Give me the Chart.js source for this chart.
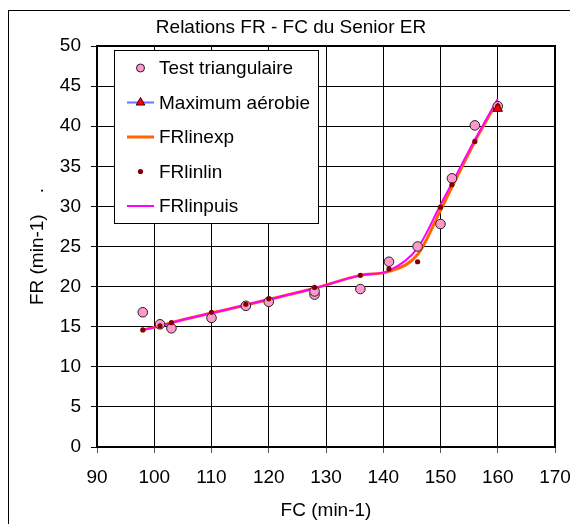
<!DOCTYPE html>
<html>
<head>
<meta charset="utf-8">
<script src="https://cdn.jsdelivr.net/npm/chart.js@4.4.1/dist/chart.umd.min.js"></script>
<style>
    html, body { margin: 0; padding: 0; background: #fff; }
</style>
</head>
<body>
<canvas id="chart" width="570" height="524"></canvas>
<script>
// Test triangulaire
const fcTest = [98, 101, 103, 110, 116, 120, 128, 128, 136, 141, 146, 150, 152, 156, 160];
const frTest = [16.8, 15.3, 14.8, 16.1, 17.6, 18.1, 19.0, 19.4, 19.7, 23.1, 25.0, 27.8, 33.5, 40.1, 42.5];

// Maximum aérobie
const fcMax = [160];
const frMax = [42.2];

// modèles
const fcModel = [98, 101, 103, 110, 116, 120, 128, 136, 141, 146, 150, 152, 156, 160];
const frLinexp = [14.6, 15.1, 15.5, 16.7, 17.7, 18.4, 19.8, 21.4, 21.9, 24.0, 29.5, 32.4, 38.1, 43.2];
const frLinlin = [14.6, 15.1, 15.5, 16.8, 17.8, 18.5, 19.9, 21.4, 22.2, 23.1, 29.9, 32.7, 38.1, 42.5];
const frLinpuis = [14.6, 15.1, 15.5, 16.7, 17.7, 18.4, 19.8, 21.4, 22.0, 24.8, 30.2, 32.9, 38.3, 43.4];

const xTicks = [90, 100, 110, 120, 130, 140, 150, 160, 170];
const yTicks = [0, 5, 10, 15, 20, 25, 30, 35, 40, 45, 50];

const FONT = '"Liberation Sans", Arial, sans-serif';
const FSIZE = 19;

const pts = (xs, ys) => xs.map((x, i) => ({ x: x, y: ys[i] }));

// cadre, titres et légende façon Excel
const excelFrame = {
    id: 'excelFrame',
    beforeDatasetsDraw(chart) {
        const { ctx, chartArea: a } = chart;
        ctx.save();
        ctx.strokeStyle = '#000';
        ctx.lineWidth = 2;
        ctx.strokeRect(a.left, a.top, a.right - a.left, a.bottom - a.top);
        ctx.restore();
    },
    afterDraw(chart) {
        const { ctx, chartArea: a } = chart;
        ctx.save();
        ctx.strokeStyle = '#000';
        ctx.lineWidth = 1;
        ctx.strokeRect(8.5, 10.5, 700, 700);

        ctx.fillStyle = '#000';
        ctx.font = FSIZE + 'px ' + FONT;
        ctx.textAlign = 'center';
        ctx.textBaseline = 'middle';
        ctx.fillText('Relations FR - FC du Senior ER', 291, 28);
        ctx.fillText('FC (min-1)', (a.left + a.right) / 2, 511);
        ctx.translate(38, (a.top + a.bottom) / 2);
        ctx.rotate(-Math.PI / 2);
        ctx.fillText('FR (min-1)    .', 0, 0);
        ctx.restore();

        // légende
        const box = { x: 114, y: 50, w: 204, h: 173 };
        ctx.save();
        ctx.fillStyle = '#fff';
        ctx.fillRect(box.x, box.y, box.w, box.h);
        ctx.strokeStyle = '#000';
        ctx.lineWidth = 1;
        ctx.strokeRect(box.x + 0.5, box.y + 0.5, box.w, box.h);
        ctx.font = FSIZE + 'px ' + FONT;
        ctx.textBaseline = 'middle';
        ctx.textAlign = 'left';
        chart.data.datasets.forEach((ds, i) => {
            const cy = 68 + i * 34.5;
            if (ds.showLine !== false && ds.borderWidth > 0) {
                ctx.strokeStyle = ds.borderColor;
                ctx.lineWidth = ds.borderWidth;
                ctx.beginPath();
                ctx.moveTo(127, cy);
                ctx.lineTo(154, cy);
                ctx.stroke();
            }
            if (ds.pointRadius > 0) {
                ctx.fillStyle = ds.pointBackgroundColor;
                ctx.strokeStyle = ds.pointBorderColor;
                ctx.lineWidth = ds.pointBorderWidth;
                Chart.helpers.drawPoint(ctx, {
                    pointStyle: ds.pointStyle,
                    rotation: 0,
                    radius: ds.legendRadius || ds.pointRadius,
                    borderWidth: ds.pointBorderWidth
                }, 140.5, cy);
            }
            ctx.fillStyle = '#000';
            ctx.fillText(ds.label, 159, cy + 1);
        });
        ctx.restore();
    }
};

new Chart(document.getElementById('chart'), {
    type: 'scatter',
    data: {
        datasets: [{
            label: 'Test triangulaire',
            data: pts(fcTest, frTest),
            showLine: false,
            borderWidth: 0,
            pointStyle: 'circle',
            pointRadius: 4.8,
            legendRadius: 4,
            pointBackgroundColor: '#ff99cc',
            pointBorderColor: '#222',
            pointBorderWidth: 1,
            order: 3
        }, {
            label: 'Maximum aérobie',
            data: pts(fcMax, frMax),
            showLine: true,
            borderColor: '#6677ff',
            borderWidth: 2,
            pointStyle: 'triangle',
            pointRadius: 5.5,
            legendRadius: 5,
            pointBackgroundColor: '#ff0000',
            pointBorderColor: '#400000',
            pointBorderWidth: 1,
            order: 1
        }, {
            label: 'FRlinexp',
            data: pts(fcModel, frLinexp),
            showLine: true,
            borderColor: '#ff6600',
            borderWidth: 3,
            pointRadius: 0,
            cubicInterpolationMode: 'monotone',
            order: 6
        }, {
            label: 'FRlinlin',
            data: pts(fcModel, frLinlin),
            showLine: false,
            borderWidth: 0,
            pointStyle: 'circle',
            pointRadius: 2.6,
            pointBackgroundColor: '#800000',
            pointBorderColor: '#800000',
            pointBorderWidth: 0,
            order: 2
        }, {
            label: 'FRlinpuis',
            data: pts(fcModel, frLinpuis),
            showLine: true,
            borderColor: '#ff00ff',
            borderWidth: 2,
            pointRadius: 0,
            cubicInterpolationMode: 'monotone',
            order: 5
        }]
    },
    options: {
        responsive: false,
        animation: false,
        events: [],
        layout: { padding: { top: 46, right: 0, bottom: 0, left: 0 } },
        plugins: {
            legend: { display: false },
            title: { display: false },
            tooltip: { enabled: false }
        },
        scales: {
            x: {
                type: 'linear',
                min: xTicks[0],
                max: xTicks[xTicks.length - 1],
                afterBuildTicks: s => { s.ticks = xTicks.map(v => ({ value: v })); },
                afterFit: s => { s.height = 77; s.paddingLeft = 0; s.paddingRight = 15; },
                grid: { color: '#000', lineWidth: 1, tickLength: 6, tickColor: '#555' },
                border: { color: '#000', width: 2 },
                ticks: { color: '#000', padding: 13, maxRotation: 0, font: { size: FSIZE, family: FONT } }
            },
            y: {
                type: 'linear',
                min: yTicks[0],
                max: yTicks[yTicks.length - 1],
                afterBuildTicks: s => { s.ticks = yTicks.map(v => ({ value: v })); },
                afterFit: s => { s.width = 97; s.paddingTop = 0; s.paddingBottom = 0; },
                grid: { color: '#000', lineWidth: 1, tickLength: 6, tickColor: '#000' },
                border: { color: '#000', width: 2 },
                ticks: { color: '#000', padding: 10, font: { size: FSIZE, family: FONT } }
            }
        }
    },
    plugins: [excelFrame]
});
</script>
</body>
</html>
